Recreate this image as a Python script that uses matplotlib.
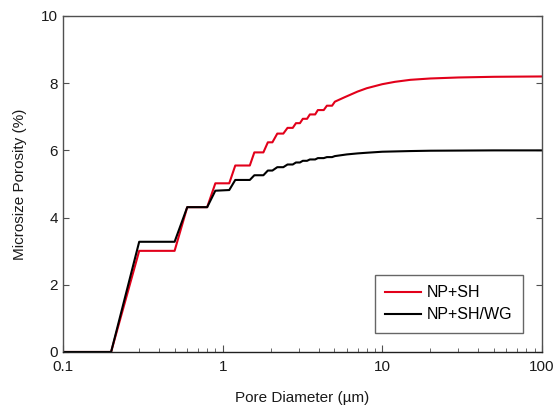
import numpy as np
import matplotlib
matplotlib.use('Agg')
import matplotlib.pyplot as plt
from matplotlib.ticker import LogLocator, FixedLocator, NullFormatter

plt.rcParams['font.family'] = ['Liberation Sans', 'DejaVu Sans']

# pore diameter (um) and cumulative porosity (%)
red_d = [0.1, 0.2, 0.3, 0.5, 0.6, 0.8, 0.9, 1.1, 1.2, 1.48, 1.58, 1.8, 1.92, 2.05,
         2.2, 2.4, 2.55, 2.75, 2.88, 3.05, 3.18, 3.38, 3.52, 3.8, 3.95, 4.3, 4.5,
         4.85, 5.05, 5.8, 7, 8, 10, 12, 15, 20, 30, 50, 100]
red_phi = [0, 0, 3.01, 3.01, 4.31, 4.31, 5.02, 5.02, 5.55, 5.55, 5.94, 5.94, 6.24, 6.24,
           6.5, 6.5, 6.67, 6.67, 6.81, 6.81, 6.94, 6.94, 7.07, 7.07, 7.2, 7.2, 7.33,
           7.33, 7.45, 7.58, 7.75, 7.85, 7.97, 8.04, 8.10, 8.14, 8.17, 8.19, 8.20]

black_d = [0.1, 0.2, 0.3, 0.5, 0.6, 0.8, 0.9, 1.1, 1.2, 1.48, 1.58, 1.8, 1.92, 2.05,
           2.2, 2.4, 2.55, 2.75, 2.88, 3.05, 3.18, 3.38, 3.52, 3.8, 3.95, 4.3, 4.5,
           4.85, 5.05, 6, 7, 8, 10, 15, 20, 50, 100]
black_phi = [0, 0, 3.28, 3.28, 4.31, 4.31, 4.80, 4.82, 5.12, 5.12, 5.26, 5.26, 5.40, 5.40,
             5.50, 5.50, 5.58, 5.58, 5.64, 5.64, 5.69, 5.69, 5.73, 5.73, 5.77, 5.77, 5.80,
             5.80, 5.83, 5.88, 5.91, 5.93, 5.96, 5.98, 5.99, 6.0, 6.0]

fig = plt.figure(figsize=(5.58, 4.11), dpi=100)
ax = fig.add_axes([0.113, 0.1436, 0.858, 0.8175])

ax.plot(red_d, red_phi, color='#e2001a', lw=1.5, label='NP+SH')
ax.plot(black_d, black_phi, color='black', lw=1.5, label='NP+SH/WG')

ax.set_xscale('log')
ax.set_xlim(0.1, 100)
ax.set_ylim(0, 10)
ax.set_yticks([0, 2, 4, 6, 8, 10])
ax.xaxis.set_major_locator(FixedLocator([0.1, 1, 10, 100]))
ax.set_xticklabels(['0.1', '1', '10', '100'])
ax.xaxis.set_minor_locator(LogLocator(base=10, subs=np.arange(2, 10)))
ax.xaxis.set_minor_formatter(NullFormatter())

for s in ax.spines.values():
    s.set_color('#505050')
    s.set_linewidth(1.0)
ax.spines['bottom'].set_color('#202020')

ax.tick_params(axis='both', which='both', direction='in', colors='#505050',
               labelcolor='#1a1a1a', labelsize=11)
ax.tick_params(axis='y', which='major', length=4, right=True)
ax.tick_params(axis='x', which='major', length=5, pad=6)
ax.tick_params(axis='x', which='minor', length=3)

ax.set_xlabel('Pore Diameter (\u00b5m)', fontsize=11, labelpad=12, color='#1a1a1a')
ax.set_ylabel('Microsize Porosity (%)', fontsize=11, labelpad=10, color='#1a1a1a')

leg = ax.legend(loc='lower right', fontsize=11.5, frameon=True, fancybox=False,
                borderaxespad=1.2, handlelength=2.25, borderpad=0.65,
                labelspacing=0.45, handletextpad=0.35)
leg.get_frame().set_edgecolor('#404040')
leg.get_frame().set_linewidth(1.0)

fig.savefig('out.png', dpi=100)
